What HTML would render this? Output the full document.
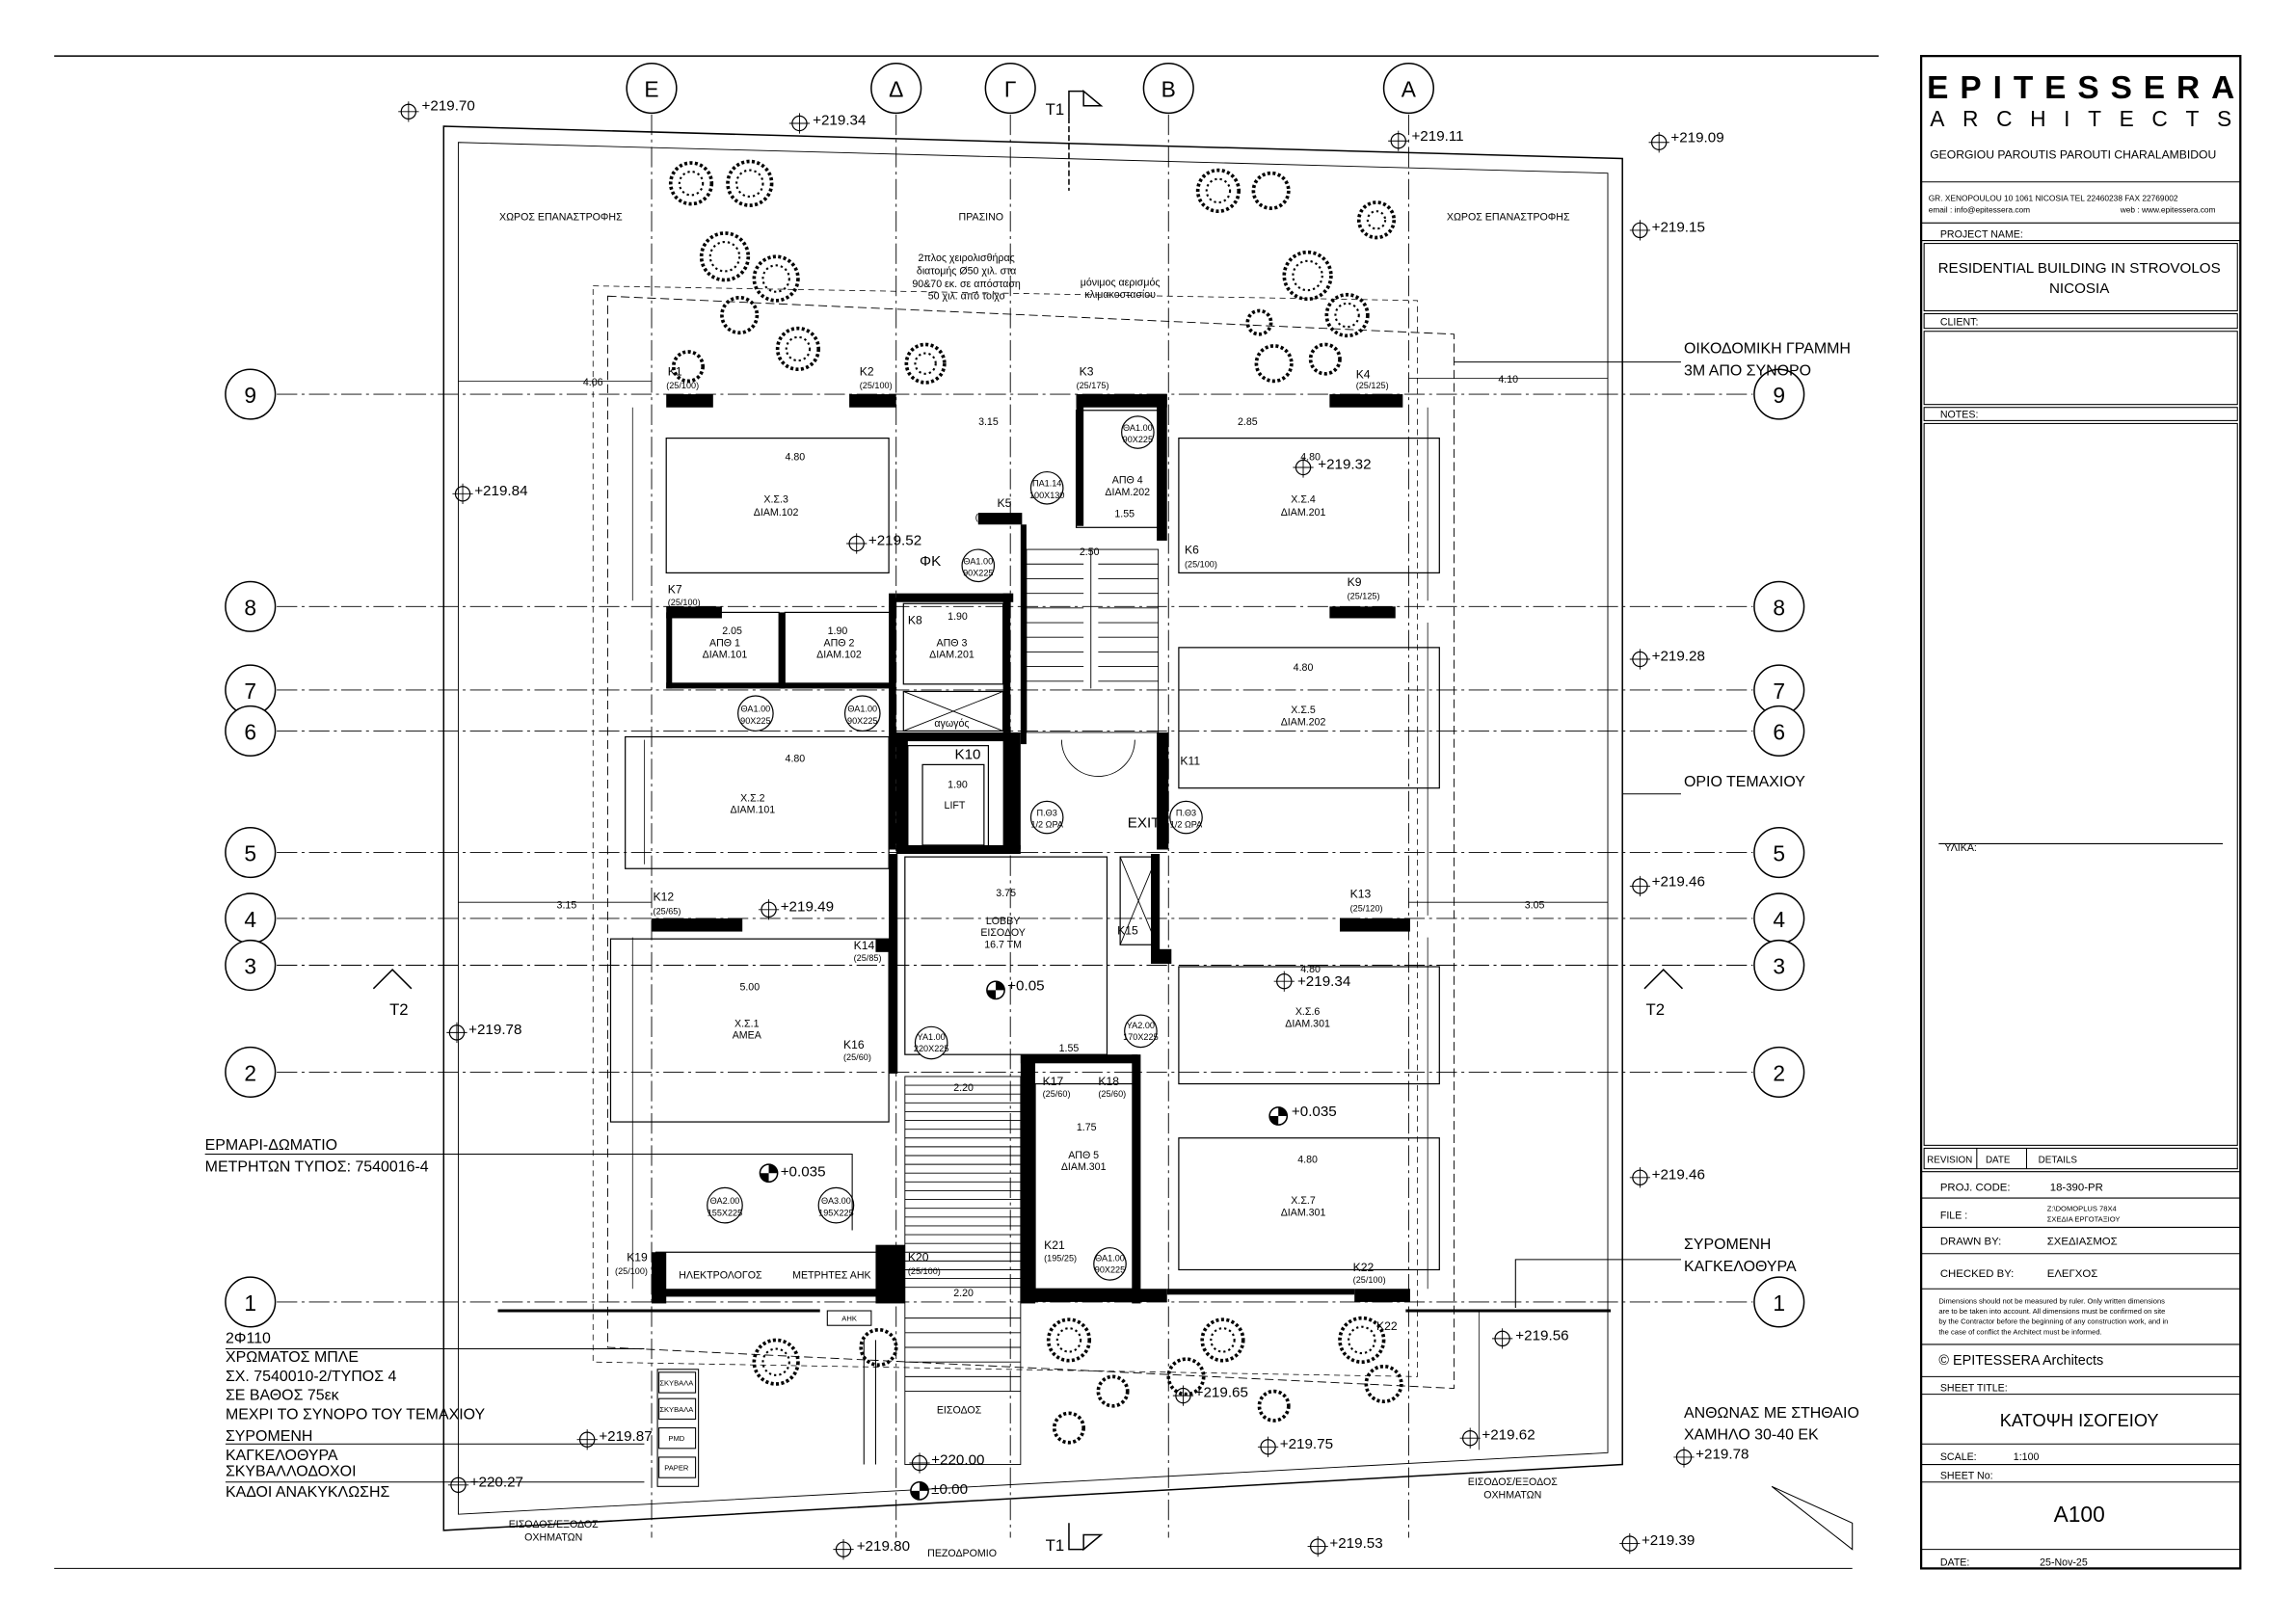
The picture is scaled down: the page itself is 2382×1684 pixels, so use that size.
<!DOCTYPE html>
<html><head><meta charset="utf-8"><style>
html,body{margin:0;padding:0;background:#fff;}
svg{display:block;font-family:"Liberation Sans","DejaVu Sans",sans-serif;}
</style></head><body>
<svg width="2382" height="1684" viewBox="0 0 1568 1108" xmlns="http://www.w3.org/2000/svg">
<rect width="1568" height="1108" fill="#fff"/>
<line x1="37" y1="38" x2="1283" y2="38" stroke="#000" stroke-width="1"/>
<line x1="37" y1="1071" x2="1265" y2="1071" stroke="#000" stroke-width="0.7"/>

<polygon points="303,86 1108,108 1108,1000 303,1045" fill="none" stroke="#000" stroke-width="1"/>
<polygon points="313,97 1098,118 1098,992 313,1034" fill="none" stroke="#000" stroke-width="0.6"/>
<polygon points="415,202 993,228 993,948 415,920" fill="none" stroke="#000" stroke-width="0.6" stroke-dasharray="6,3"/>
<polygon points="405,195 968,205 968,940 405,930" fill="none" stroke="#000" stroke-width="0.5" stroke-dasharray="4,3"/>

<g stroke="#000" stroke-width="0.6" stroke-dasharray="14,3,2,3">
<line x1="445" y1="78" x2="445" y2="1050"/>
<line x1="612" y1="78" x2="612" y2="1050"/>
<line x1="690" y1="78" x2="690" y2="1050"/>
<line x1="798" y1="78" x2="798" y2="1050"/>
<line x1="962" y1="78" x2="962" y2="1050"/>
</g>
<g stroke="#000" stroke-width="0.6" stroke-dasharray="14,3,2,3">
<line x1="189" y1="269" x2="1197" y2="269"/>
<line x1="189" y1="414" x2="1197" y2="414"/>
<line x1="189" y1="471" x2="1197" y2="471"/>
<line x1="189" y1="499" x2="1197" y2="499"/>
<line x1="189" y1="582" x2="1197" y2="582"/>
<line x1="189" y1="627" x2="1197" y2="627"/>
<line x1="189" y1="659" x2="1197" y2="659"/>
<line x1="189" y1="732" x2="1197" y2="732"/>
<line x1="189" y1="889" x2="1197" y2="889"/>
</g>
<g fill="#fff" stroke="#000" stroke-width="1">
<circle cx="445" cy="60" r="17"/><circle cx="612" cy="60" r="17"/><circle cx="690" cy="60" r="17"/><circle cx="798" cy="60" r="17"/><circle cx="962" cy="60" r="17"/>
<circle cx="171" cy="269" r="17"/><circle cx="171" cy="414" r="17"/><circle cx="171" cy="471" r="17"/><circle cx="171" cy="499" r="17"/><circle cx="171" cy="582" r="17"/><circle cx="171" cy="627" r="17"/><circle cx="171" cy="659" r="17"/><circle cx="171" cy="732" r="17"/><circle cx="171" cy="889" r="17"/>
<circle cx="1215" cy="269" r="17"/><circle cx="1215" cy="414" r="17"/><circle cx="1215" cy="471" r="17"/><circle cx="1215" cy="499" r="17"/><circle cx="1215" cy="582" r="17"/><circle cx="1215" cy="627" r="17"/><circle cx="1215" cy="659" r="17"/><circle cx="1215" cy="732" r="17"/><circle cx="1215" cy="889" r="17"/>
</g>
<g font-size="15" text-anchor="middle" fill="#000">
<text x="445" y="66">Ε</text><text x="612" y="66">Δ</text><text x="690" y="66">Γ</text><text x="798" y="66">Β</text><text x="962" y="66">Α</text>
<text x="171" y="275">9</text><text x="171" y="420">8</text><text x="171" y="477">7</text><text x="171" y="505">6</text><text x="171" y="588">5</text><text x="171" y="633">4</text><text x="171" y="665">3</text><text x="171" y="738">2</text><text x="171" y="895">1</text>
<text x="1215" y="275">9</text><text x="1215" y="420">8</text><text x="1215" y="477">7</text><text x="1215" y="505">6</text><text x="1215" y="588">5</text><text x="1215" y="633">4</text><text x="1215" y="665">3</text><text x="1215" y="738">2</text><text x="1215" y="895">1</text>
</g>

<!-- trees -->
<g id="trees" fill="none" stroke="#000" stroke-width="2.4" stroke-dasharray="2,1.6">
<circle cx="472" cy="125" r="14"/><circle cx="512" cy="125" r="15"/><circle cx="495" cy="175" r="16"/><circle cx="530" cy="190" r="15"/><circle cx="545" cy="238" r="14"/><circle cx="505" cy="215" r="12"/><circle cx="632" cy="248" r="13"/><circle cx="470" cy="250" r="10"/>
<circle cx="832" cy="130" r="14"/><circle cx="868" cy="130" r="12"/><circle cx="893" cy="188" r="16"/><circle cx="920" cy="215" r="14"/><circle cx="940" cy="150" r="12"/><circle cx="870" cy="248" r="12"/><circle cx="905" cy="245" r="10"/><circle cx="860" cy="220" r="8"/>
<circle cx="530" cy="930" r="15"/><circle cx="600" cy="920" r="12"/><circle cx="730" cy="915" r="14"/><circle cx="760" cy="950" r="10"/><circle cx="835" cy="915" r="14"/><circle cx="810" cy="940" r="12"/><circle cx="930" cy="915" r="15"/><circle cx="945" cy="945" r="12"/><circle cx="730" cy="975" r="10"/><circle cx="870" cy="960" r="10"/>
</g>
<g fill="none" stroke="#000" stroke-width="1.4" stroke-dasharray="1.5,2">
<circle cx="472" cy="125" r="8"/><circle cx="512" cy="125" r="9"/><circle cx="495" cy="175" r="10"/><circle cx="530" cy="190" r="9"/><circle cx="545" cy="238" r="8"/><circle cx="632" cy="248" r="7"/>
<circle cx="832" cy="130" r="8"/><circle cx="893" cy="188" r="10"/><circle cx="920" cy="215" r="8"/><circle cx="940" cy="150" r="6"/>
<circle cx="530" cy="930" r="9"/><circle cx="730" cy="915" r="8"/><circle cx="835" cy="915" r="8"/><circle cx="930" cy="915" r="9"/>
</g>

<g fill="none" stroke="#000" stroke-width="0.8">
<rect x="455" y="299" width="152" height="92"/>
<rect x="805" y="299" width="178" height="92"/>
<rect x="805" y="442" width="178" height="96"/>
<rect x="427" y="503" width="180" height="90"/>
<rect x="805" y="660" width="178" height="80"/>
<rect x="417" y="641" width="190" height="125"/>
<rect x="805" y="777" width="178" height="90"/>
<rect x="735" y="280" width="60" height="80"/>
<rect x="618" y="585" width="138" height="135"/>
<rect x="620" y="509" width="55" height="70"/>
<rect x="630" y="522" width="42" height="55"/>
<rect x="458" y="418" width="74" height="50"/>
<rect x="536" y="418" width="74" height="50"/>
<rect x="617" y="412" width="68" height="55"/>
<rect x="617" y="472" width="68" height="27"/>
<rect x="765" y="585" width="25" height="60"/>
<rect x="707" y="740" width="70" height="140"/>
<rect x="448" y="855" width="160" height="30"/>
</g>
<line x1="617" y1="472" x2="685" y2="499" stroke="#000" stroke-width="0.6"/>
<line x1="685" y1="472" x2="617" y2="499" stroke="#000" stroke-width="0.6"/>
<line x1="765" y1="585" x2="790" y2="645" stroke="#000" stroke-width="0.6"/>
<line x1="790" y1="585" x2="765" y2="645" stroke="#000" stroke-width="0.6"/>

<g fill="#000">
<rect x="455" y="269" width="32" height="9"/>
<rect x="580" y="269" width="32" height="9"/>
<rect x="735" y="269" width="62" height="9"/>
<rect x="908" y="269" width="50" height="9"/>
<rect x="735" y="269" width="5" height="90"/>
<rect x="790" y="269" width="7" height="100"/>
<rect x="668" y="350" width="30" height="8"/>
<rect x="697" y="358" width="4" height="150"/>
<rect x="455" y="414" width="38" height="8"/>
<rect x="908" y="414" width="45" height="8"/>
<rect x="455" y="418" width="4" height="52"/>
<rect x="455" y="466" width="155" height="4"/>
<rect x="532" y="418" width="4" height="52"/>
<rect x="607" y="405" width="5" height="175"/>
<rect x="612" y="405" width="80" height="6"/>
<rect x="685" y="405" width="5" height="95"/>
<rect x="612" y="500" width="80" height="6"/>
<rect x="612" y="500" width="8" height="80"/>
<rect x="685" y="500" width="12" height="80"/>
<rect x="612" y="577" width="85" height="6"/>
<rect x="790" y="500" width="8" height="80"/>
<rect x="445" y="627" width="62" height="9"/>
<rect x="915" y="627" width="48" height="9"/>
<rect x="598" y="641" width="14" height="9"/>
<rect x="790" y="648" width="10" height="10"/>
<rect x="607" y="583" width="6" height="150"/>
<rect x="786" y="583" width="6" height="75"/>
<rect x="697" y="720" width="80" height="6"/>
<rect x="697" y="720" width="10" height="170"/>
<rect x="773" y="720" width="6" height="170"/>
<rect x="697" y="880" width="100" height="9"/>
<rect x="445" y="855" width="10" height="35"/>
<rect x="598" y="850" width="20" height="40"/>
<rect x="925" y="880" width="38" height="9"/>
<rect x="797" y="880" width="128" height="4"/>
<rect x="445" y="880" width="170" height="5"/>
</g>
<g stroke="#000" stroke-width="0.6">
<rect x="618" y="735" width="79" height="265" fill="none"/>
<path d="M618 741H697M618 747H697M618 753H697M618 759H697M618 765H697M618 771H697M618 777H697M618 783H697M618 789H697M618 795H697M618 801H697M618 807H697M618 813H697M618 819H697M618 825H697M618 831H697M618 837H697M618 843H697M618 849H697M618 855H697M618 861H697M618 867H697M618 873H697M618 879H697M618 900H697M618 910H697M618 920H697M618 930H697M618 940H697M618 950H697"/>
<rect x="701" y="375" width="90" height="125" fill="none"/>
<path d="M701 385H740M701 395H740M701 405H740M701 415H740M701 425H740M701 435H740M701 445H740M701 455H740M701 465H740M750 385H791M750 395H791M750 405H791M750 415H791M750 425H791M750 435H791M750 445H791M750 455H791M750 465H791"/>
<line x1="745" y1="375" x2="745" y2="470"/>
</g>
<path d="M725 505 A25 25 0 0 0 775 505" fill="none" stroke="#000" stroke-width="0.6"/>

<g fill="#fff" stroke="#000" stroke-width="0.8">
<circle cx="777" cy="295" r="11"/><circle cx="715" cy="333" r="11"/><circle cx="668" cy="386" r="11"/>
<circle cx="516" cy="487" r="12"/><circle cx="589" cy="487" r="12"/>
<circle cx="715" cy="558" r="11"/><circle cx="810" cy="558" r="11"/>
<circle cx="636" cy="712" r="11"/><circle cx="779" cy="704" r="11"/>
<circle cx="495" cy="823" r="12"/><circle cx="571" cy="823" r="12"/><circle cx="758" cy="863" r="11"/>
</g>
<g font-size="6" text-anchor="middle" fill="#000">
<text x="777" y="294">ΘΑ1.00</text><text x="777" y="302">90X225</text>
<text x="715" y="332">ΠΑ1.14</text><text x="715" y="340">100X130</text>
<text x="668" y="385">ΘΑ1.00</text><text x="668" y="393">90X225</text>
<text x="516" y="486">ΘΑ1.00</text><text x="516" y="494">90X225</text>
<text x="589" y="486">ΘΑ1.00</text><text x="589" y="494">90X225</text>
<text x="715" y="557">Π.Θ3</text><text x="715" y="565">1/2 ΩΡΑ</text>
<text x="810" y="557">Π.Θ3</text><text x="810" y="565">1/2 ΩΡΑ</text>
<text x="636" y="710">ΥΑ1.00</text><text x="636" y="718">220X225</text>
<text x="779" y="702">ΥΑ2.00</text><text x="779" y="710">170X225</text>
<text x="495" y="822">ΘΑ2.00</text><text x="495" y="830">155X225</text>
<text x="571" y="822">ΘΑ3.00</text><text x="571" y="830">195X225</text>
<text x="758" y="861">ΘΑ1.00</text><text x="758" y="869">90X225</text>
</g>

<g font-size="7" text-anchor="middle" fill="#000">
<text x="530" y="343">Χ.Σ.3</text><text x="530" y="352">ΔΙΑΜ.102</text>
<text x="890" y="343">Χ.Σ.4</text><text x="890" y="352">ΔΙΑΜ.201</text>
<text x="770" y="330">ΑΠΘ 4</text><text x="770" y="338">ΔΙΑΜ.202</text>
<text x="495" y="441">ΑΠΘ 1</text><text x="495" y="449">ΔΙΑΜ.101</text>
<text x="573" y="441">ΑΠΘ 2</text><text x="573" y="449">ΔΙΑΜ.102</text>
<text x="650" y="441">ΑΠΘ 3</text><text x="650" y="449">ΔΙΑΜ.201</text>
<text x="650" y="496">αγωγός</text>
<text x="890" y="487">Χ.Σ.5</text><text x="890" y="495">ΔΙΑΜ.202</text>
<text x="514" y="547">Χ.Σ.2</text><text x="514" y="555">ΔΙΑΜ.101</text>
<text x="652" y="552">LIFT</text>
<text x="685" y="631">LOBBY</text><text x="685" y="639">ΕΙΣΟΔΟΥ</text><text x="685" y="647">16.7 ΤΜ</text>
<text x="510" y="701">Χ.Σ.1</text><text x="510" y="709">ΑΜΕΑ</text>
<text x="893" y="693">Χ.Σ.6</text><text x="893" y="701">ΔΙΑΜ.301</text>
<text x="740" y="791">ΑΠΘ 5</text><text x="740" y="799">ΔΙΑΜ.301</text>
<text x="890" y="822">Χ.Σ.7</text><text x="890" y="830">ΔΙΑΜ.301</text>
<text x="492" y="873">ΗΛΕΚΤΡΟΛΟΓΟΣ</text><text x="568" y="873">ΜΕΤΡΗΤΕΣ ΑΗΚ</text>
<text x="383" y="150">ΧΩΡΟΣ ΕΠΑΝΑΣΤΡΟΦΗΣ</text>
<text x="1030" y="150">ΧΩΡΟΣ ΕΠΑΝΑΣΤΡΟΦΗΣ</text>
<text x="670" y="150">ΠΡΑΣΙΝΟ</text>
<text x="660" y="178">2πλος χειρολισθήρας</text><text x="660" y="187">διατομής Ø50 χιλ. στα</text><text x="660" y="196">90&amp;70 εκ. σε απόσταση</text><text x="660" y="204">50 χιλ. από τοίχο</text>
<text x="765" y="195">μόνιμος αερισμός</text><text x="765" y="203">κλιμακοστασίου</text>
<text x="655" y="965">ΕΙΣΟΔΟΣ</text>
<text x="657" y="1063">ΠΕΖΟΔΡΟΜΙΟ</text>
<text x="378" y="1043">ΕΙΣΟΔΟΣ/ΕΞΟΔΟΣ</text><text x="378" y="1052">ΟΧΗΜΑΤΩΝ</text>
<text x="1033" y="1014">ΕΙΣΟΔΟΣ/ΕΞΟΔΟΣ</text><text x="1033" y="1023">ΟΧΗΜΑΤΩΝ</text>
</g>
<g font-size="10" fill="#000">
<text x="652" y="518">K10</text><text x="770" y="565">EXIT</text><text x="628" y="386">ΦΚ</text>
</g>
<g font-size="8" fill="#000">
<text x="456" y="256">K1</text><text x="455" y="265" font-size="6">(25/100)</text>
<text x="587" y="256">K2</text><text x="587" y="265" font-size="6">(25/100)</text>
<text x="737" y="256">K3</text><text x="735" y="265" font-size="6">(25/175)</text>
<text x="926" y="258">K4</text><text x="926" y="265" font-size="6">(25/125)</text>
<text x="681" y="346">K5</text><text x="666" y="355" font-size="6">(25/100)</text>
<text x="809" y="378">K6</text><text x="809" y="387" font-size="6">(25/100)</text>
<text x="456" y="405">K7</text><text x="456" y="413" font-size="6">(25/100)</text>
<text x="620" y="426">K8</text>
<text x="920" y="400">K9</text><text x="920" y="409" font-size="6">(25/125)</text>
<text x="806" y="522">K11</text>
<text x="446" y="615">K12</text><text x="446" y="624" font-size="6">(25/65)</text>
<text x="922" y="613">K13</text><text x="922" y="622" font-size="6">(25/120)</text>
<text x="583" y="648">K14</text><text x="583" y="656" font-size="6">(25/85)</text>
<text x="763" y="638">K15</text>
<text x="576" y="716">K16</text><text x="576" y="724" font-size="6">(25/60)</text>
<text x="712" y="741">K17</text><text x="712" y="749" font-size="6">(25/60)</text>
<text x="750" y="741">K18</text><text x="750" y="749" font-size="6">(25/60)</text>
<text x="428" y="861">K19</text><text x="420" y="870" font-size="6">(25/100)</text>
<text x="620" y="861">K20</text><text x="620" y="870" font-size="6">(25/100)</text>
<text x="713" y="853">K21</text><text x="713" y="861" font-size="6">(195/25)</text>
<text x="924" y="868">K22</text><text x="924" y="876" font-size="6">(25/100)</text>
<text x="940" y="908">K22</text>
</g>
<g font-size="7" fill="#000" text-anchor="middle">
<text x="405" y="263">4.06</text><text x="1030" y="261">4.10</text>
<text x="543" y="314">4.80</text><text x="675" y="290">3.15</text><text x="852" y="290">2.85</text><text x="895" y="314">4.80</text>
<text x="543" y="520">4.80</text><text x="890" y="458">4.80</text>
<text x="387" y="620">3.15</text><text x="1048" y="620">3.05</text>
<text x="687" y="612">3.75</text><text x="512" y="676">5.00</text><text x="895" y="664">4.80</text>
<text x="658" y="745">2.20</text><text x="730" y="718">1.55</text><text x="742" y="772">1.75</text><text x="893" y="794">4.80</text>
<text x="658" y="885">2.20</text><text x="744" y="379">2.50</text><text x="768" y="353">1.55</text><text x="654" y="538">1.90</text>
<text x="500" y="433">2.05</text><text x="572" y="433">1.90</text><text x="654" y="423">1.90</text>
</g>
<g stroke="#000" stroke-width="0.5">
<line x1="313" y1="260" x2="445" y2="260"/><line x1="962" y1="258" x2="1098" y2="258"/>
<line x1="313" y1="616" x2="445" y2="616"/><line x1="962" y1="616" x2="1098" y2="616"/>
<line x1="432" y1="278" x2="432" y2="410"/><line x1="975" y1="278" x2="975" y2="410"/>
<line x1="975" y1="425" x2="975" y2="625"/><line x1="975" y1="640" x2="975" y2="880"/>
<line x1="432" y1="640" x2="432" y2="880"/><line x1="440" y1="505" x2="440" y2="590"/>
<line x1="1010" y1="895" x2="1010" y2="990"/>
</g>

<g fill="none" stroke="#000" stroke-width="0.8">
<circle cx="279" cy="76" r="5"/><circle cx="546" cy="84" r="5"/><circle cx="955" cy="96" r="5"/><circle cx="1133" cy="97" r="5"/><circle cx="1120" cy="157" r="5"/>
<circle cx="316" cy="337" r="5"/><circle cx="890" cy="319" r="5"/><circle cx="585" cy="371" r="5"/><circle cx="1120" cy="450" r="5"/>
<circle cx="525" cy="621" r="5"/><circle cx="1120" cy="605" r="5"/><circle cx="312" cy="705" r="5"/><circle cx="877" cy="670" r="5"/>
<circle cx="1120" cy="804" r="5"/><circle cx="1026" cy="914" r="5"/><circle cx="808" cy="953" r="5"/><circle cx="401" cy="983" r="5"/>
<circle cx="1004" cy="982" r="5"/><circle cx="1150" cy="995" r="5"/><circle cx="866" cy="988" r="5"/><circle cx="313" cy="1014" r="5"/>
<circle cx="576" cy="1058" r="5"/><circle cx="900" cy="1056" r="5"/><circle cx="1113" cy="1054" r="5"/>
<circle cx="628" cy="999" r="5"/>
</g>
<g stroke="#000" stroke-width="0.6">
<path d="M272 76H286M279 69V83M539 84H553M546 77V91M948 96H962M955 89V103M1126 97H1140M1133 90V104M1113 157H1127M1120 150V164M309 337H323M316 330V344M883 319H897M890 312V326M578 371H592M585 364V378M1113 450H1127M1120 443V457M518 621H532M525 614V628M1113 605H1127M1120 598V612M305 705H319M312 698V712M870 670H884M877 663V677M1113 804H1127M1120 797V811M1019 914H1033M1026 907V921M801 953H815M808 946V960M394 983H408M401 976V990M997 982H1011M1004 975V989M1143 995H1157M1150 988V1002M859 988H873M866 981V995M306 1014H320M313 1007V1021M569 1058H583M576 1051V1065M893 1056H907M900 1049V1063M1106 1054H1120M1113 1047V1061M621 999H635M628 992V1006"/>
</g>
<circle cx="680" cy="676" r="6" fill="#fff" stroke="#000"/><path d="M680 676L680 670A6 6 0 0 1 686 676Z M680 676L680 682A6 6 0 0 1 674 676Z" fill="#000"/>
<circle cx="873" cy="762" r="6" fill="#fff" stroke="#000"/><path d="M873 762L873 756A6 6 0 0 1 879 762Z M873 762L873 768A6 6 0 0 1 867 762Z" fill="#000"/>
<circle cx="525" cy="801" r="6" fill="#fff" stroke="#000"/><path d="M525 801L525 795A6 6 0 0 1 531 801Z M525 801L525 807A6 6 0 0 1 519 801Z" fill="#000"/>
<circle cx="628" cy="1018" r="6" fill="#fff" stroke="#000"/><path d="M628 1018L628 1012A6 6 0 0 1 634 1018Z M628 1018L628 1024A6 6 0 0 1 622 1018Z" fill="#000"/>
<g font-size="10" fill="#000">
<text x="288" y="75">+219.70</text><text x="555" y="85">+219.34</text><text x="964" y="96">+219.11</text><text x="1141" y="97">+219.09</text><text x="1128" y="158">+219.15</text>
<text x="324" y="338">+219.84</text><text x="900" y="320">+219.32</text><text x="593" y="372">+219.52</text><text x="1128" y="451">+219.28</text>
<text x="533" y="622">+219.49</text><text x="1128" y="605">+219.46</text><text x="320" y="706">+219.78</text><text x="886" y="673">+219.34</text>
<text x="688" y="676">+0.05</text><text x="882" y="762">+0.035</text><text x="533" y="803">+0.035</text>
<text x="1128" y="805">+219.46</text><text x="1035" y="915">+219.56</text><text x="816" y="954">+219.65</text><text x="409" y="984">+219.87</text>
<text x="1012" y="983">+219.62</text><text x="1158" y="996">+219.78</text><text x="874" y="989">+219.75</text><text x="321" y="1015">+220.27</text>
<text x="636" y="1000">+220.00</text><text x="636" y="1020">±0.00</text>
<text x="585" y="1059">+219.80</text><text x="908" y="1057">+219.53</text><text x="1121" y="1055">+219.39</text>
</g>

<g fill="none" stroke="#000" stroke-width="1">
<path d="M730 80V62H740"/><path d="M740 62L752 72L740 72Z"/>
<path d="M730 1040V1058H740"/><path d="M740 1058L752 1048L740 1048Z"/>
<path d="M255 675L268 662L281 675"/><path d="M1123 675L1136 662L1149 675"/>
<line x1="730" y1="80" x2="730" y2="130" stroke-dasharray="4,2"/>
</g>
<g font-size="11" fill="#000"><text x="714" y="78">T1</text><text x="714" y="1059">T1</text><text x="266" y="693">T2</text><text x="1124" y="693">T2</text></g>

<g font-size="10.5" fill="#000">
<text x="1150" y="241">ΟΙΚΟΔΟΜΙΚΗ ΓΡΑΜΜΗ</text><text x="1150" y="256">3Μ ΑΠΟ ΣΥΝΟΡΟ</text>
<text x="1150" y="537">ΟΡΙΟ ΤΕΜΑΧΙΟΥ</text>
<text x="1150" y="853">ΣΥΡΟΜΕΝΗ</text><text x="1150" y="868">ΚΑΓΚΕΛΟΘΥΡΑ</text>
<text x="1150" y="968">ΑΝΘΩΝΑΣ ΜΕ ΣΤΗΘΑΙΟ</text><text x="1150" y="983">ΧΑΜΗΛΟ 30-40 ΕΚ</text>
<text x="140" y="785">ΕΡΜΑΡΙ-ΔΩΜΑΤΙΟ</text><text x="140" y="800">ΜΕΤΡΗΤΩΝ ΤΥΠΟΣ: 7540016-4</text>
<text x="154" y="917">2Φ110</text><text x="154" y="930">ΧΡΩΜΑΤΟΣ ΜΠΛΕ</text><text x="154" y="943">ΣΧ. 7540010-2/ΤΥΠΟΣ 4</text><text x="154" y="956">ΣΕ ΒΑΘΟΣ 75εκ</text><text x="154" y="969">ΜΕΧΡΙ ΤΟ ΣΥΝΟΡΟ ΤΟΥ ΤΕΜΑΧΙΟΥ</text>
<text x="154" y="984">ΣΥΡΟΜΕΝΗ</text><text x="154" y="997">ΚΑΓΚΕΛΟΘΥΡΑ</text>
<text x="154" y="1008">ΣΚΥΒΑΛΛΟΔΟΧΟΙ</text><text x="154" y="1022">ΚΑΔΟΙ ΑΝΑΚΥΚΛΩΣΗΣ</text>
</g>
<g stroke="#000" stroke-width="0.7" fill="none">
<path d="M1148 247H993"/><path d="M1148 542H1108"/><path d="M1148 860H1035V893"/><path d="M140 788H582V840"/>
<path d="M154 921H440"/><path d="M154 986H440"/><path d="M154 1012H440"/>
<line x1="340" y1="895" x2="560" y2="895" stroke-width="2"/><line x1="960" y1="895" x2="1100" y2="895" stroke-width="2"/>
<path d="M1210 1015L1265 1040L1265 1058Z"/>
<rect x="449" y="935" width="28" height="80"/>
<rect x="450" y="937" width="25" height="14"/><rect x="450" y="955" width="25" height="14"/><rect x="450" y="975" width="25" height="14"/><rect x="450" y="995" width="25" height="14"/>
<line x1="590" y1="915" x2="590" y2="1000"/><line x1="598" y1="915" x2="598" y2="1000"/>
<rect x="565" y="895" width="30" height="10"/>
</g>
<g font-size="5" fill="#000" text-anchor="middle"><text x="462" y="946">ΣΚΥΒΑΛΑ</text><text x="462" y="964">ΣΚΥΒΑΛΑ</text><text x="462" y="984">PMD</text><text x="462" y="1004">PAPER</text><text x="580" y="902">ΑΗΚ</text></g>

<g stroke="#000" fill="none">
<rect x="1312" y="38" width="218" height="1033" stroke-width="1.5"/>
<line x1="1312" y1="124" x2="1530" y2="124" stroke-width="0.7"/>
<line x1="1312" y1="152" x2="1530" y2="152" stroke-width="0.7"/>
<line x1="1312" y1="164" x2="1530" y2="164" stroke-width="0.7"/>
<rect x="1314" y="166" width="214" height="46" stroke-width="0.7"/>
<rect x="1314" y="214" width="214" height="10" stroke-width="0.7"/>
<rect x="1314" y="226" width="214" height="50" stroke-width="0.7"/>
<rect x="1314" y="278" width="214" height="9" stroke-width="0.7"/>
<rect x="1314" y="289" width="214" height="493" stroke-width="0.7"/>
<line x1="1324" y1="576" x2="1518" y2="576" stroke-width="0.7"/>
<rect x="1314" y="784" width="214" height="14" stroke-width="0.7"/>
<line x1="1350" y1="784" x2="1350" y2="798" stroke-width="0.7"/>
<line x1="1384" y1="784" x2="1384" y2="798" stroke-width="0.7"/>
<line x1="1312" y1="800" x2="1530" y2="800" stroke-width="0.7"/>
<line x1="1312" y1="818" x2="1530" y2="818" stroke-width="0.7"/>
<line x1="1312" y1="838" x2="1530" y2="838" stroke-width="0.7"/>
<line x1="1312" y1="856" x2="1530" y2="856" stroke-width="0.7"/>
<line x1="1312" y1="880" x2="1530" y2="880" stroke-width="0.7"/>
<line x1="1312" y1="918" x2="1530" y2="918" stroke-width="0.7"/>
<line x1="1312" y1="940" x2="1530" y2="940" stroke-width="0.7"/>
<line x1="1312" y1="952" x2="1530" y2="952" stroke-width="0.7"/>
<line x1="1312" y1="986" x2="1530" y2="986" stroke-width="0.7"/>
<line x1="1312" y1="1000" x2="1530" y2="1000" stroke-width="0.7"/>
<line x1="1312" y1="1012" x2="1530" y2="1012" stroke-width="0.7"/>
<line x1="1312" y1="1058" x2="1530" y2="1058" stroke-width="0.7"/>
</g>
<g fill="#000">
<text x="1316" y="67" font-size="22" font-weight="bold" textLength="210" lengthAdjust="spacing">EPITESSERA</text>
<text x="1318" y="86" font-size="15" textLength="206" lengthAdjust="spacing">ARCHITECTS</text>
<text x="1318" y="108" font-size="8">GEORGIOU PAROUTIS PAROUTI CHARALAMBIDOU</text>
<text x="1317" y="137" font-size="5.5">GR. XENOPOULOU 10 1061 NICOSIA  TEL 22460238  FAX 22769002</text>
<text x="1317" y="145" font-size="5.5">email :  info@epitessera.com</text><text x="1448" y="145" font-size="5.5">web :  www.epitessera.com</text>
<text x="1325" y="162" font-size="7">PROJECT NAME:</text>
<text x="1420" y="186" font-size="10" text-anchor="middle">RESIDENTIAL BUILDING IN STROVOLOS</text>
<text x="1420" y="200" font-size="10" text-anchor="middle">NICOSIA</text>
<text x="1325" y="222" font-size="7">CLIENT:</text>
<text x="1325" y="285" font-size="7">NOTES:</text>
<text x="1328" y="581" font-size="7">ΥΛΙΚΑ:</text>
<text x="1316" y="794" font-size="6.5">REVISION</text><text x="1356" y="794" font-size="6.5">DATE</text><text x="1392" y="794" font-size="6.5">DETAILS</text>
<text x="1325" y="813" font-size="7.5">PROJ. CODE:</text><text x="1400" y="813" font-size="7.5">18-390-PR</text>
<text x="1325" y="832" font-size="7">FILE :</text><text x="1398" y="827" font-size="5">Z:\DOMOPLUS 78X4</text><text x="1398" y="834" font-size="5">ΣΧΕΔΙΑ ΕΡΓΟΤΑΞΙΟΥ</text>
<text x="1325" y="850" font-size="7.5">DRAWN BY:</text><text x="1398" y="850" font-size="7.5">ΣΧΕΔΙΑΣΜΟΣ</text>
<text x="1325" y="872" font-size="7.5">CHECKED BY:</text><text x="1398" y="872" font-size="7.5">ΕΛΕΓΧΟΣ</text>
<text x="1324" y="890" font-size="5">Dimensions should not be measured by ruler. Only written dimensions</text>
<text x="1324" y="897" font-size="5">are to be taken into account. All dimensions must be confirmed on site</text>
<text x="1324" y="904" font-size="5">by the Contractor before the beginning of any construction work, and in</text>
<text x="1324" y="911" font-size="5">the case of conflict the Architect must be informed.</text>
<text x="1324" y="932" font-size="9.5">© EPITESSERA Architects</text>
<text x="1325" y="950" font-size="7">SHEET TITLE:</text>
<text x="1420" y="974" font-size="12" text-anchor="middle">ΚΑΤΟΨΗ ΙΣΟΓΕΙΟΥ</text>
<text x="1325" y="997" font-size="7">SCALE:</text><text x="1375" y="997" font-size="7">1:100</text>
<text x="1325" y="1010" font-size="7">SHEET No:</text>
<text x="1420" y="1039" font-size="15" text-anchor="middle">A100</text>
<text x="1325" y="1069" font-size="7">DATE:</text><text x="1393" y="1069" font-size="7">25-Nov-25</text>
</g>
</svg>
</body></html>
